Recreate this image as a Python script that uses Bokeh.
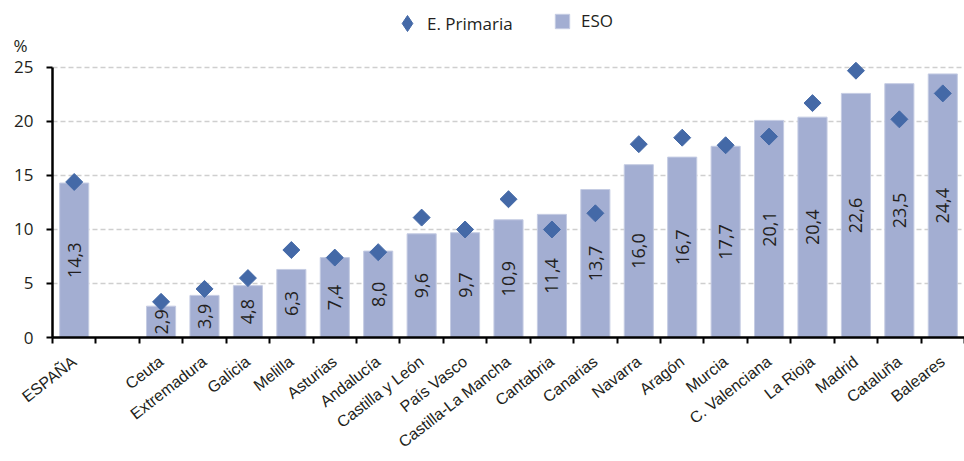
import math
from bokeh.plotting import figure
from bokeh.models import (ColumnDataSource, Range1d, FixedTicker, Legend, LegendItem,
                          LinearAxis)
from bokeh.core.properties import value
from bokeh.embed import file_html
from bokeh.resources import INLINE

# ---- data ----
regions = ["ESPAÑA", "Ceuta", "Extremadura", "Galicia", "Melilla", "Asturias",
           "Andalucía", "Castilla y León", "País Vasco", "Castilla-La Mancha",
           "Cantabria", "Canarias", "Navarra", "Aragón", "Murcia",
           "C. Valenciana", "La Rioja", "Madrid", "Cataluña", "Baleares"]
eso = [14.3, 2.9, 3.9, 4.8, 6.3, 7.4, 8.0, 9.6, 9.7, 10.9, 11.4, 13.7,
       16.0, 16.7, 17.7, 20.1, 20.4, 22.6, 23.5, 24.4]
primaria = [14.4, 3.3, 4.5, 5.5, 8.1, 7.4, 7.9, 11.1, 10.0, 12.8, 10.0, 11.5,
            17.9, 18.5, 17.8, 18.6, 21.7, 24.7, 20.2, 22.6]
y_ticks = [0, 5, 10, 15, 20, 25]
unit_label = "%"

# positions: ESPAÑA, one empty slot, then the regions
xpos = [0.5] + [i + 2.5 for i in range(len(regions) - 1)]
labels = [f"{v:.1f}".replace(".", ",") for v in eso]

src = ColumnDataSource(dict(x=xpos, eso=eso, prim=primaria, half=[v / 2 for v in eso],
                            lab=labels))

BAR = "#A3AED2"
DIA = "#4469A7"
TXT = "#231F20"
NUM_FONT = "Open Sans"

p = figure(width=964, height=460, output_backend="svg", toolbar_location=None,
           x_range=Range1d(0, 21), y_range=Range1d(0, 31.2),
           min_border_left=52, min_border_right=0, min_border_top=0,
           outline_line_color=None, background_fill_color="white")
p.xaxis.visible = False
p.yaxis.visible = False
p.xgrid.grid_line_color = None

bars = p.vbar(x="x", top="eso", width=0.67, source=src, fill_color=BAR,
              line_color="#C5CCE3", line_width=1)
dots = p.scatter(x="x", y="prim", marker="square", angle=math.pi / 4, size=12,
                 source=src, fill_color=DIA, line_color=DIA)
p.text(x="x", y="half", text="lab", angle=math.pi / 2, source=src,
       text_align="center", text_baseline="middle", text_color=TXT,
       text_font=value(NUM_FONT), text_font_size="18px")
# off-frame renderer used only for the legend's diamond symbol
leg_dot = p.scatter(x=[-5], y=[-5], marker="diamond", size=16,
                    fill_color=DIA, line_color=DIA)

# y axis
yax = LinearAxis(ticker=FixedTicker(ticks=y_ticks), bounds=(0, 25))
yax.axis_line_color = "black"
yax.axis_line_width = 2.5
yax.major_tick_out = 6
yax.major_tick_in = 0
yax.major_tick_line_width = 2
yax.minor_tick_line_color = None
yax.major_label_text_font = NUM_FONT
yax.major_label_text_font_size = "17px"
yax.major_label_text_color = TXT
yax.major_label_standoff = 13
p.add_layout(yax, "left")

# unit label "%" above the y axis, as an outer label-only axis
pax = LinearAxis(ticker=FixedTicker(ticks=[27.0]))
pax.major_label_overrides = {27.0: unit_label}
pax.axis_line_color = None
pax.major_tick_line_color = None
pax.minor_tick_line_color = None
pax.major_tick_out = 0
pax.major_tick_in = 0
pax.major_label_text_font = NUM_FONT
pax.major_label_text_font_size = "17px"
pax.major_label_text_color = TXT
pax.major_label_standoff = -16
p.add_layout(pax, "left")

p.ygrid.ticker = FixedTicker(ticks=y_ticks[1:])
p.ygrid.grid_line_color = "#CFCFCF"
p.ygrid.grid_line_width = 1.5
p.ygrid.grid_line_dash = "5 3"

# x axis: ticks at slot boundaries, labels at slot centres
xax = LinearAxis(ticker=FixedTicker(ticks=xpos, minor_ticks=list(range(22))))
xax.axis_line_color = "black"
xax.axis_line_width = 2.5
xax.major_tick_out = 0
xax.major_tick_in = 0
xax.minor_tick_out = 6
xax.minor_tick_in = 0
xax.minor_tick_line_width = 2
xax.minor_tick_line_color = "black"
xax.major_label_overrides = {x: name for x, name in zip(xpos, regions)}
xax.major_label_orientation = math.radians(38)
xax.major_label_text_font = "Liberation Sans"
xax.major_label_text_font_size = "16px"
xax.major_label_text_color = TXT
xax.major_label_standoff = 16
p.add_layout(xax, "below")

common = dict(orientation="horizontal", label_text_font=NUM_FONT,
              label_text_font_size="17px", label_text_color=TXT,
              padding=0, margin=0, border_line_color=None, background_fill_alpha=0)
leg1 = Legend(items=[LegendItem(label="E. Primaria", renderers=[leg_dot])],
              location=(335, 294), glyph_width=40, glyph_height=40,
              label_standoff=-7, **common)
leg2 = Legend(items=[LegendItem(label="ESO", renderers=[bars])],
              location=(501, 305), glyph_width=18, glyph_height=18,
              label_standoff=10, **common)
p.add_layout(leg1, "center")
p.add_layout(leg2, "center")

open("out.html", "w").write(file_html(p, INLINE))
